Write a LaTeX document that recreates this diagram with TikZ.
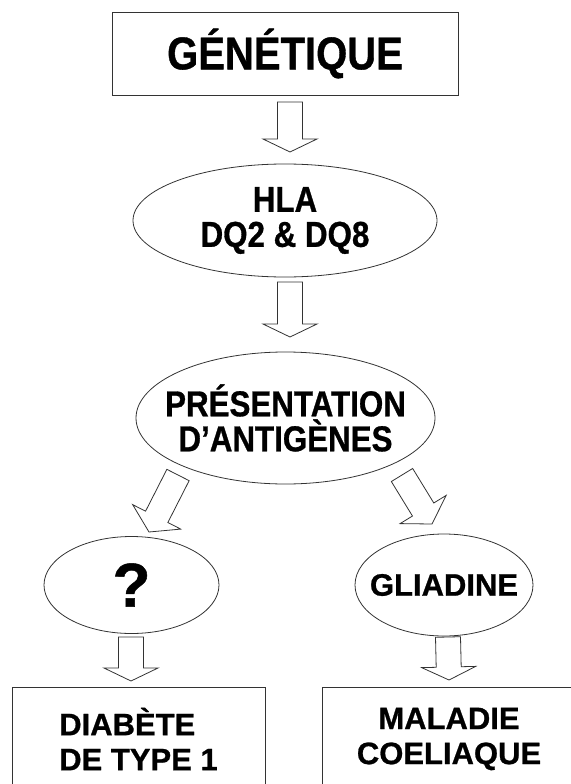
\documentclass[tikz,border=0pt]{standalone}
\usepackage{fontspec}
\setmainfont{Liberation Sans}
\newfontfamily\grosfont[Ligatures=TeX,FakeStretch=0.87,FakeBold=0.8]{Liberation Sans}
\newfontfamily\basfont[Ligatures=TeX,FakeBold=0.8]{Liberation Sans}
\usetikzlibrary{calc,shapes.geometric}
\definecolor{LineClr}{rgb}{0.2,0.2,0.2}

\begin{document}
\begin{tikzpicture}[x=1pt,y=-1pt,
  every node/.style={inner sep=0pt,outer sep=0pt},
  boite/.style={draw=LineClr,line width=0.8pt,rectangle,font=\basfont\bfseries\fontsize{31}{35}\selectfont},
  bulle/.style={draw=LineClr,line width=0.8pt,ellipse},
  txt/.style={font=\grosfont\bfseries\fontsize{36}{35}\selectfont,align=center},
  fleche/.style={draw=LineClr,line width=0.8pt,line join=miter,to path={
      ($(\tikztostart)!12.5pt!90:(\tikztotarget)$)
   -- ($($(\tikztotarget)!#1!(\tikztostart)$)!12.5pt!90:(\tikztotarget)$)
   -- ($($(\tikztotarget)!#1!(\tikztostart)$)!27pt!90:(\tikztotarget)$)
   -- (\tikztotarget)
   -- ($($(\tikztotarget)!#1!(\tikztostart)$)!27pt!-90:(\tikztotarget)$)
   -- ($($(\tikztotarget)!#1!(\tikztostart)$)!12.5pt!-90:(\tikztotarget)$)
   -- ($(\tikztostart)!12.5pt!-90:(\tikztotarget)$) -- cycle}},
  fleche/.default=13pt]
\useasboundingbox (0,0) rectangle (570,784);

% boites et bulles
\node[boite,font=\grosfont\bfseries\fontsize{46}{46}\selectfont,minimum width=346pt,minimum height=83pt] (gen) at (285,53.5) {GÉNÉTIQUE};
\node[bulle,minimum width=304pt,minimum height=113pt,label={[txt]center:HLA\\DQ2 \& DQ8}] (hla) at (285,220.5) {};
\node[bulle,minimum width=299pt,minimum height=132pt,label={[txt]center:PRÉSENTATION\\D’ANTIGÈNES}] (pres) at (285.5,418) {};
\node[bulle,minimum width=175pt,minimum height=97pt,label={[font=\basfont\bfseries\fontsize{62}{62}\selectfont]center:?}] (inconnu) at (131.5,585) {};
\node[bulle,minimum width=178pt,minimum height=102pt,label={[font=\basfont\bfseries\fontsize{31}{35}\selectfont]center:GLIADINE}] (gli) at (444,585) {};
\node[boite,align=left,minimum width=253pt,minimum height=104pt] (dia) at (138.5,739) {DIABÈTE\\DE TYPE 1};
\node[boite,align=center,minimum width=254pt,minimum height=104pt] (mal) at (449,739) {MALADIE\\COELIAQUE};

% bouts des fleches
\coordinate (f1a) at ($(gen.south)+(5,7)$);
\coordinate (f1b) at ($(hla.north)+(5,-12)$);
\coordinate (f2a) at ($(hla.south)+(5,5)$);
\coordinate (f2b) at ($(pres.north)+(4.5,-15)$);
\coordinate (f3a) at ($(pres.south)+(-107.5,-9)$);
\coordinate (f3b) at ($(inconnu.north)+(17.5,-4.5)$);
\coordinate (f4a) at ($(pres.south)+(116.5,-9)$);
\coordinate (f4b) at ($(gli.north)+(-12,-10)$);
\coordinate (f5a) at ($(inconnu.south)+(-0.5,3.5)$);
\coordinate (f5b) at ($(dia.north)+(-7.5,-6)$);
\coordinate (f6a) at ($(gli.south)+(4,1)$);
\coordinate (f6b) at ($(mal.north)+(0,-7)$);

\draw[fleche] (f1a) to (f1b);
\draw[fleche] (f2a) to (f2b);
\draw[fleche=17pt] (f3a) to (f3b);
\draw[fleche=17pt] (f4a) to (f4b);
\draw[fleche] (f5a) to (f5b);
\draw[fleche] (f6a) to (f6b);

\end{tikzpicture}
\end{document}
